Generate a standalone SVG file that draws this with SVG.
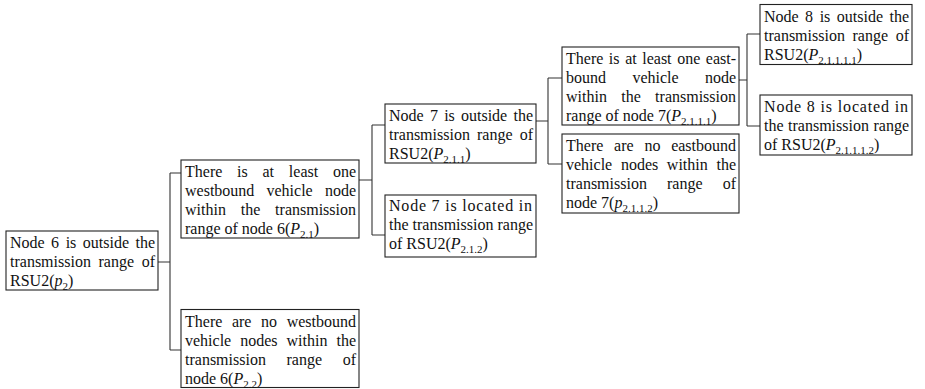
<svg xmlns="http://www.w3.org/2000/svg" width="925" height="389" viewBox="0 0 925 389">
<style>
.bg{fill:#fff}
.box{fill:#fff;stroke:#222;stroke-width:1.1}
.con{fill:none;stroke:#333;stroke-width:1.1}
text{font-family:"Liberation Serif","Times New Roman",serif;font-size:16px;fill:#111}
.m{text-anchor:middle}
.e{text-anchor:end}
.i{font-style:italic}
.s{font-size:11px}
</style>
<rect class="bg" x="0" y="0" width="925" height="389"/>
<g id="connectors">
<path class="con" d="M158,262H170M170,173V350M170,173H181M170,350H181"/>
<path class="con" d="M359,180H372M372,125V235M372,125H385M372,235H385"/>
<path class="con" d="M536,121H548M548,78V164M548,78H562M548,164H562"/>
<path class="con" d="M739,80H747M747,34V126M747,34H760M747,126H760"/>
</g>
<g id="n1">
<rect class="box" x="6" y="231" width="152" height="59"/>
<text y="248"><tspan x="10">Node</tspan><tspan x="55.1" class="m">6</tspan><tspan x="71" class="m">is</tspan><tspan x="105.9" class="m">outside</tspan><tspan x="155" class="e">the</tspan></text>
<text y="267"><tspan x="10">transmission</tspan><tspan x="116.3" class="m">range</tspan><tspan x="155" class="e">of</tspan></text>
<text x="10" y="286">RSU2(<tspan class="i">p</tspan><tspan class="s" dy="4">2</tspan><tspan dy="-4">)</tspan></text>
</g>
<g id="n2">
<rect class="box" x="181" y="160" width="178" height="78"/>
<text y="177"><tspan x="185">There</tspan><tspan x="242.4" class="m">is</tspan><tspan x="268.3" class="m">at</tspan><tspan x="303.5" class="m">least</tspan><tspan x="356" class="e">one</tspan></text>
<text y="196"><tspan x="185">westbound</tspan><tspan x="289.6" class="m">vehicle</tspan><tspan x="356" class="e">node</tspan></text>
<text y="215"><tspan x="185">within</tspan><tspan x="250.5" class="m">the</tspan><tspan x="356" class="e">transmission</tspan></text>
<text x="185" y="234">range of node 6(<tspan class="i">P</tspan><tspan class="s" dy="4">2.1</tspan><tspan dy="-4">)</tspan></text>
</g>
<g id="n3">
<rect class="box" x="181" y="309.5" width="178" height="78"/>
<text y="326.5"><tspan x="185">There</tspan><tspan x="241.7" class="m">are</tspan><tspan x="269.1" class="m">no</tspan><tspan x="356" class="e">westbound</tspan></text>
<text y="345.5"><tspan x="185">vehicle</tspan><tspan x="258.9" class="m">nodes</tspan><tspan x="307" class="m">within</tspan><tspan x="356" class="e">the</tspan></text>
<text y="364.5"><tspan x="185">transmission</tspan><tspan x="304.3" class="m">range</tspan><tspan x="356" class="e">of</tspan></text>
<text x="185" y="383.5">node 6(<tspan class="i">P</tspan><tspan class="s" dy="4">2.2</tspan><tspan dy="-4">)</tspan></text>
</g>
<g id="n4">
<rect class="box" x="385" y="104" width="151" height="59"/>
<text y="121"><tspan x="389">Node</tspan><tspan x="433.9" class="m">7</tspan><tspan x="449.5" class="m">is</tspan><tspan x="484.1" class="m">outside</tspan><tspan x="533" class="e">the</tspan></text>
<text y="140"><tspan x="389">transmission</tspan><tspan x="494.8" class="m">range</tspan><tspan x="533" class="e">of</tspan></text>
<text x="389" y="159">RSU2(<tspan class="i">P</tspan><tspan class="s" dy="4">2.1.1</tspan><tspan dy="-4">)</tspan></text>
</g>
<g id="n5">
<rect class="box" x="385" y="195" width="151" height="62"/>
<text x="389" y="211" textLength="143" lengthAdjust="spacing">Node 7 is located in</text>
<text y="230"><tspan x="389">the</tspan><tspan x="453" class="m">transmission</tspan><tspan x="533" class="e">range</tspan></text>
<text x="389" y="249">of RSU2(<tspan class="i">P</tspan><tspan class="s" dy="4">2.1.2</tspan><tspan dy="-4">)</tspan></text>
</g>
<g id="n6">
<rect class="box" x="562" y="47" width="177" height="78"/>
<text y="64"><tspan x="566">There</tspan><tspan x="614.2" class="m">is</tspan><tspan x="630.9" class="m">at</tspan><tspan x="656.9" class="m">least</tspan><tspan x="688.7" class="m">one</tspan><tspan x="736" class="e">east-</tspan></text>
<text y="83"><tspan x="566">bound</tspan><tspan x="655.5" class="m">vehicle</tspan><tspan x="736" class="e">node</tspan></text>
<text y="102"><tspan x="566">within</tspan><tspan x="631" class="m">the</tspan><tspan x="736" class="e">transmission</tspan></text>
<text x="566" y="121">range of node 7(<tspan class="i">P</tspan><tspan class="s" dy="4">2.1.1.1</tspan><tspan dy="-4">)</tspan></text>
</g>
<g id="n7">
<rect class="box" x="562" y="134" width="177" height="79"/>
<text y="151"><tspan x="566">There</tspan><tspan x="623.8" class="m">are</tspan><tspan x="652.4" class="m">no</tspan><tspan x="736" class="e">eastbound</tspan></text>
<text y="170"><tspan x="566">vehicle</tspan><tspan x="639.6" class="m">nodes</tspan><tspan x="687.3" class="m">within</tspan><tspan x="736" class="e">the</tspan></text>
<text y="189"><tspan x="566">transmission</tspan><tspan x="684.8" class="m">range</tspan><tspan x="736" class="e">of</tspan></text>
<text x="566" y="208">node 7(<tspan class="i">p</tspan><tspan class="s" dy="4">2.1.1.2</tspan><tspan dy="-4">)</tspan></text>
</g>
<g id="n8">
<rect class="box" x="760" y="4.5" width="152" height="60"/>
<text y="21.5"><tspan x="764">Node</tspan><tspan x="809.1" class="m">8</tspan><tspan x="825" class="m">is</tspan><tspan x="859.9" class="m">outside</tspan><tspan x="909" class="e">the</tspan></text>
<text y="40.5"><tspan x="764">transmission</tspan><tspan x="870.3" class="m">range</tspan><tspan x="909" class="e">of</tspan></text>
<text x="764" y="59.5">RSU2(<tspan class="i">P</tspan><tspan class="s" dy="4">2.1.1.1.1</tspan><tspan dy="-4">)</tspan></text>
</g>
<g id="n9">
<rect class="box" x="760" y="95" width="152" height="60"/>
<text x="764" y="112" textLength="144" lengthAdjust="spacing">Node 8 is located in</text>
<text y="131"><tspan x="764">the</tspan><tspan x="828.5" class="m">transmission</tspan><tspan x="909" class="e">range</tspan></text>
<text x="764" y="150">of RSU2(<tspan class="i">P</tspan><tspan class="s" dy="4">2.1.1.1.2</tspan><tspan dy="-4">)</tspan></text>
</g>
</svg>
